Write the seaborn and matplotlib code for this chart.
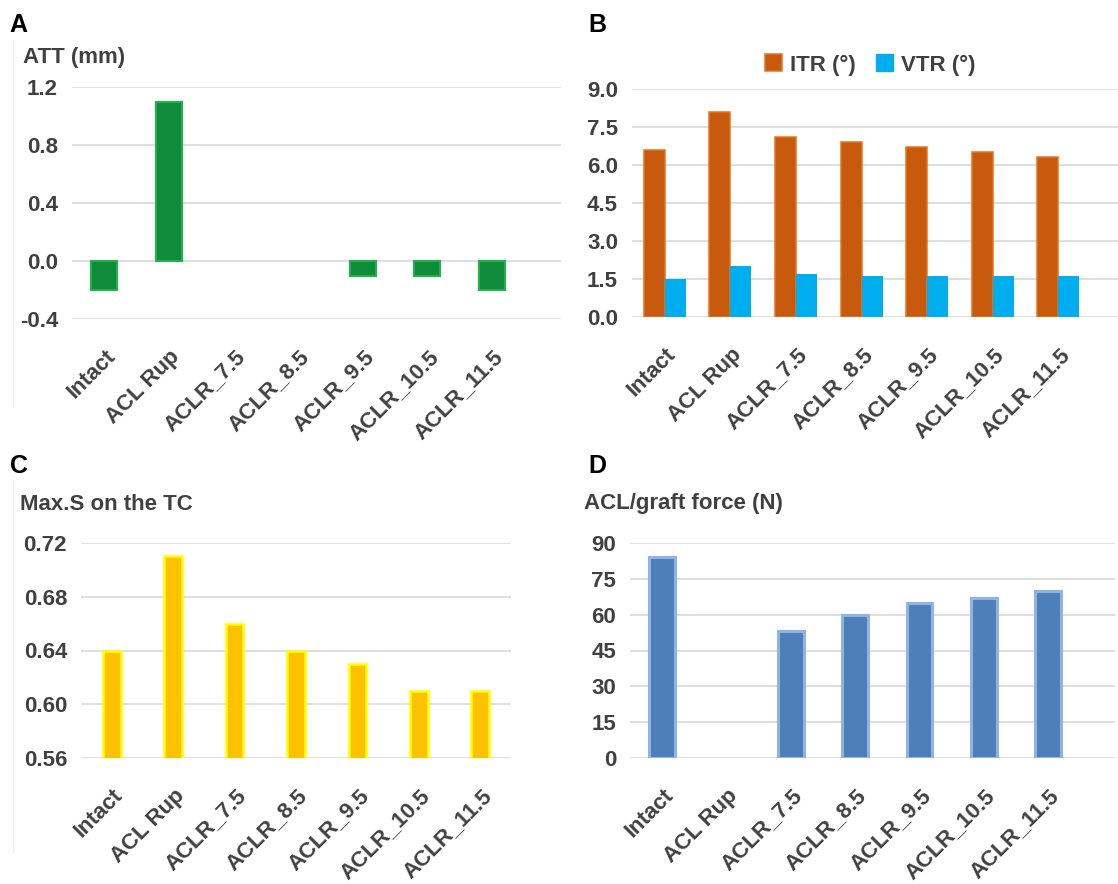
import numpy as np
import pandas as pd
import matplotlib
matplotlib.use("Agg")
import matplotlib.pyplot as plt
from matplotlib.transforms import ScaledTranslation
from matplotlib.patches import Patch
from matplotlib.lines import Line2D
import seaborn as sns

# ---- data -------------------------------------------------------------
categories = ["Intact", "ACL Rup", "ACLR_7.5", "ACLR_8.5",
              "ACLR_9.5", "ACLR_10.5", "ACLR_11.5"]
att_mm = [-0.2, 1.1, 0.0, 0.0, -0.1, -0.1, -0.2]
itr_deg = [6.6, 8.1, 7.1, 6.9, 6.7, 6.5, 6.3]
vtr_deg = [1.5, 2.0, 1.7, 1.6, 1.6, 1.6, 1.6]
max_stress_tc = [0.64, 0.71, 0.66, 0.64, 0.63, 0.61, 0.61]
graft_force_n = [84, 0, 53, 60, 65, 67, 70]

series_names = ["ITR (°)", "VTR (°)"]
att_ticks = [-0.4, 0.0, 0.4, 0.8, 1.2]
rot_ticks = [0.0, 1.5, 3.0, 4.5, 6.0, 7.5, 9.0]
stress_ticks = [0.56, 0.60, 0.64, 0.68, 0.72]
force_ticks = [0, 15, 30, 45, 60, 75, 90]

# ---- style ------------------------------------------------------------
sns.set_style("white")
plt.rcParams["font.family"] = ["Liberation Sans", "DejaVu Sans"]
plt.rcParams["font.weight"] = "bold"

TEXT = "#404040"
GRID = "#d9d9d9"
W, H = 1118, 884

fig = plt.figure(figsize=(W / 100, H / 100), dpi=100)


def px_axes(left, top, right, bottom):
    return fig.add_axes([left / W, 1 - bottom / H, (right - left) / W, (bottom - top) / H])


def fig_text(x, y, s, **kw):
    fig.text(x / W, 1 - y / H, s, **kw)


def finish(ax, ticks, fmt, xmax):
    ax.set_ylim(ticks[0], ticks[-1])
    ax.set_yticks(ticks)
    ax.set_yticklabels([fmt.format(t) for t in ticks])
    ax.set_xlim(-0.5, xmax)
    ax.set_xlabel("")
    ax.set_ylabel("")
    ax.yaxis.grid(True, color=GRID, linewidth=1.2)
    ax.xaxis.grid(False)
    ax.set_axisbelow(True)
    for s in ax.spines.values():
        s.set_visible(False)
    ax.tick_params(axis="y", length=0, pad=10, labelsize=16, labelcolor=TEXT)
    ax.tick_params(axis="x", length=0, pad=25, labelsize=16, labelcolor=TEXT,
                   labelrotation=45)
    shift = ScaledTranslation(0.08, 0, fig.dpi_scale_trans)
    for lbl in ax.get_xticklabels():
        lbl.set_ha("right")
        lbl.set_va("center")
        lbl.set_rotation_mode("anchor")
        lbl.set_transform(lbl.get_transform() + shift)


def hide_empty(ax):
    for p in ax.patches:
        if p.get_height() == 0:
            p.set_visible(False)


# ---- A: anterior tibial translation -----------------------------------
axA = px_axes(72, 87, 561, 319)
dfA = pd.DataFrame({"case": categories, "value": att_mm})
sns.barplot(data=dfA, x="case", y="value", ax=axA, color="#108a3b",
            saturation=1, width=0.40, edgecolor="#22b24c", linewidth=1.5)
hide_empty(axA)
finish(axA, att_ticks, "{:.1f}", 7.07)

# ---- B: internal / valgus tibial rotation -----------------------------
axB = px_axes(632, 89, 1118, 317)
dfB = pd.DataFrame({
    "case": categories * 2,
    "value": itr_deg + vtr_deg,
    "series": [series_names[0]] * len(categories) + [series_names[1]] * len(categories),
})
palB = {series_names[0]: "#c85a0e", series_names[1]: "#00adef"}
sns.barplot(data=dfB, x="case", y="value", hue="series", hue_order=series_names,
            palette=palB, ax=axB, saturation=1, width=0.64, linewidth=0)
for p in axB.patches:
    if p.get_facecolor()[:3] == matplotlib.colors.to_rgb(palB[series_names[0]]):
        p.set_edgecolor("#e8721c")
        p.set_linewidth(1.1)
if axB.get_legend() is not None:
    axB.get_legend().remove()
finish(axB, rot_ticks, "{:.1f}", 6.91)
handles = [Patch(facecolor=palB[series_names[0]], edgecolor="#e8721c", linewidth=1.1),
           Patch(facecolor=palB[series_names[1]], edgecolor=palB[series_names[1]])]
fig.legend(handles, series_names, loc="center", ncol=2, frameon=False,
           bbox_to_anchor=(870 / W, 1 - 65 / H), bbox_transform=fig.transFigure,
           fontsize=16, labelcolor=TEXT, handlelength=0.78, handleheight=0.78,
           handletextpad=0.35, columnspacing=0.9)

# ---- C: maximum stress on the tibial cartilage ------------------------
axC = px_axes(81, 543, 511, 758)
dfC = pd.DataFrame({"case": categories, "value": max_stress_tc})
sns.barplot(data=dfC, x="case", y="value", ax=axC, color="#fcc200",
            saturation=1, width=0.29, edgecolor="#ffff00", linewidth=1.8)
finish(axC, stress_ticks, "{:.2f}", 6.5)

# ---- D: ACL / graft force ---------------------------------------------
axD = px_axes(630, 543, 1115, 758)
dfD = pd.DataFrame({"case": categories, "value": graft_force_n})
sns.barplot(data=dfD, x="case", y="value", ax=axD, color="#4e7fbb",
            saturation=1, width=0.40, edgecolor="#8fb4e3", linewidth=2.2)
hide_empty(axD)
finish(axD, force_ticks, "{:d}", 7.04)

# ---- titles and panel letters -----------------------------------------
title_kw = dict(fontsize=16, color=TEXT, fontweight="bold", ha="left", va="center")
fig_text(23, 57, "ATT (mm)", **title_kw)
fig_text(20, 504, "Max.S on the TC", **title_kw)
fig_text(584, 503, "ACL/graft force (N)", **title_kw)

letter_kw = dict(fontsize=18, color="black", fontweight="bold", ha="left", va="center")
fig_text(9, 25, "A", **letter_kw)
fig_text(588, 25, "B", **letter_kw)
fig_text(10, 466, "C", **letter_kw)
fig_text(588, 466, "D", **letter_kw)

# faint chart-area borders on the left column
for y0, y1 in [(40, 407), (480, 852)]:
    fig.add_artist(Line2D([13 / W, 13 / W], [1 - y0 / H, 1 - y1 / H],
                          transform=fig.transFigure, color="#efefef", linewidth=1))

fig.savefig("out.png", dpi=100)
